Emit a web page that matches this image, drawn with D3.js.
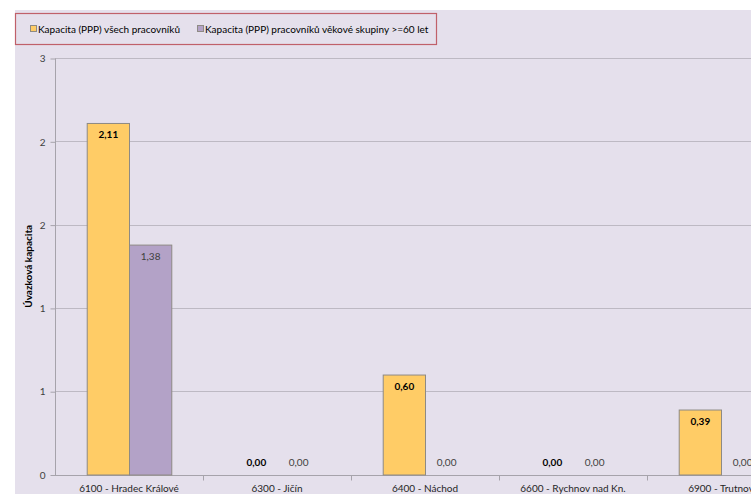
<!DOCTYPE html>
<html>
<head>
<meta charset="utf-8">
<script src="https://cdn.jsdelivr.net/npm/d3@7/dist/d3.min.js"></script>
<style>
  html, body { margin: 0; padding: 0; background: #ffffff; }
  svg { display: block; font-family: Lato, "Open Sans", sans-serif; }
</style>
</head>
<body>
<svg id="chart" width="751" height="494"></svg>
<script>
// Úvazková kapacita podle pracovišť
const categories = ["6100 - Hradec Králové", "6300 - Jičín", "6400 - Náchod", "6600 - Rychnov nad Kn.", "6900 - Trutnov"];
const seriesNames = ["Kapacita (PPP) všech pracovníků", "Kapacita (PPP) pracovníků věkové skupiny >=60 let"];
const allWorkers = [2.11, 0.00, 0.60, 0.00, 0.39];
const workers60 = [1.38, 0.00, 0.00, 0.00, 0.00];
const yTicks = [0, 0.5, 1, 1.5, 2, 2.5];
const yTitle = "Úvazková kapacita";

const series = [
  { name: seriesNames[0], values: allWorkers, fill: "#FFCC66", bold: true },
  { name: seriesNames[1], values: workers60, fill: "#B3A2C7", bold: false }
];

const svg = d3.select("#chart");
const W = 751, H = 494;

// chart area background
svg.append("rect").attr("x", 15).attr("y", 10).attr("width", W - 15).attr("height", H - 10)
  .attr("fill", "#E5E0EC");

const plot = { left: 55, top: 58, bottom: 474.5, bandW: 148 };

const x = d3.scaleBand()
  .domain(categories)
  .range([plot.left, plot.left + plot.bandW * categories.length])
  .paddingInner(0).paddingOuter(0);

const y = d3.scaleLinear().domain([0, 2.5]).range([plot.bottom, plot.top]);

// inner grouping: gap width 150 %
const groupFrac = 2 / (2 + 1.5);
const x1 = d3.scaleBand()
  .domain(series.map((s, i) => i))
  .range([0, x.bandwidth() * groupFrac]);
const groupOffset = (x.bandwidth() - x.bandwidth() * groupFrac) / 2;

// gridlines
svg.append("g").selectAll("line").data(yTicks.filter(t => t > 0)).join("line")
  .attr("x1", plot.left).attr("x2", W)
  .attr("y1", d => Math.round(y(d)) + 0.5).attr("y2", d => Math.round(y(d)) + 0.5)
  .attr("stroke", "#BDB9C3").attr("stroke-width", 1);

// y axis (labels rounded to whole numbers, halves rounded up)
const yAxis = d3.axisLeft(y).tickValues(yTicks)
  .tickFormat(v => String(v % 1 === 0.5 ? Math.ceil(v) : Math.round(v)))
  .tickSize(5).tickPadding(5);
const gy = svg.append("g").attr("transform", `translate(${plot.left + 0.5},0.5)`).call(yAxis);
gy.select(".domain").attr("stroke", "#A6A3AB").attr("d", `M0,${y(2.5)}V${y(0)}`);
gy.selectAll(".tick line").attr("stroke", "#A6A3AB");
gy.selectAll(".tick text").attr("fill", "#404040").style("font-size", "10px")
  .style("font-family", "Lato, sans-serif");

// x axis
const xAxis = d3.axisBottom(x).tickSize(0).tickPadding(9);
const gx = svg.append("g").attr("transform", `translate(0,${Math.round(y(0)) + 0.5})`).call(xAxis);
gx.select(".domain").attr("stroke", "#A6A3AB").attr("d", `M${plot.left},0H${W}`);
gx.selectAll(".tick text").attr("fill", "#262626").style("font-size", "10px")
  .style("font-family", "Lato, sans-serif");
// category separators
svg.append("g").selectAll("line")
  .data(categories.slice(1))
  .join("line")
  .attr("x1", d => Math.round(x(d)) + 0.5).attr("x2", d => Math.round(x(d)) + 0.5)
  .attr("y1", Math.round(y(0)) + 0.5).attr("y2", Math.round(y(0)) + 5.5)
  .attr("stroke", "#A6A3AB");

// bars with value labels at the inside end
const barsG = svg.append("g");
series.forEach((s, si) => {
  const g = barsG.append("g");
  const data = categories.map((c, ci) => ({ c, v: s.values[ci] }));
  g.selectAll("rect").data(data.filter(d => d.v > 0)).join("rect")
    .attr("x", d => x(d.c) + groupOffset + x1(si) + 0.5)
    .attr("y", d => y(d.v) + 0.5)
    .attr("width", x1.bandwidth())
    .attr("height", d => y(0) - y(d.v))
    .attr("fill", s.fill)
    .attr("stroke", "#8E8A84").attr("stroke-width", 1);
  g.selectAll("text").data(data).join("text")
    .attr("x", d => x(d.c) + groupOffset + x1(si) + x1.bandwidth() / 2 + 0.5)
    .attr("y", d => d.v > 0 ? y(d.v) + 12 : y(0) - 12)
    .attr("dy", "0.35em")
    .attr("text-anchor", "middle")
    .attr("fill", s.bold ? "#000000" : "#404040")
    .style("font-weight", s.bold ? "bold" : "normal")
    .style("font-size", "10px")
    .text(d => d3.format(".2f")(d.v).replace(".", ","));
});

// y axis title
svg.append("text")
  .attr("transform", `translate(28,${(y(0) + y(2.5)) / 2}) rotate(-90)`)
  .attr("text-anchor", "middle").attr("dy", "0.35em")
  .style("font-weight", "bold").style("font-size", "10px")
  .attr("fill", "#000")
  .text(yTitle);

// legend
const lg = svg.append("g");
lg.append("rect").attr("x", 15.5).attr("y", 13.5).attr("width", 421).attr("height", 31)
  .attr("fill", "none").attr("stroke", "#C0606A").attr("stroke-width", 1.2);
let lx = 30;
series.forEach(s => {
  lg.append("rect").attr("x", lx + 0.5).attr("y", 25.5).attr("width", 6).attr("height", 6)
    .attr("fill", s.fill).attr("stroke", "#8E8A84");
  const t = lg.append("text").attr("x", lx + 8).attr("y", 29).attr("dy", "0.35em")
    .style("font-size", "10px").attr("fill", "#000").text(s.name);
  lx += 8 + t.node().getComputedTextLength() + 17;
});
</script>
</body>
</html>
